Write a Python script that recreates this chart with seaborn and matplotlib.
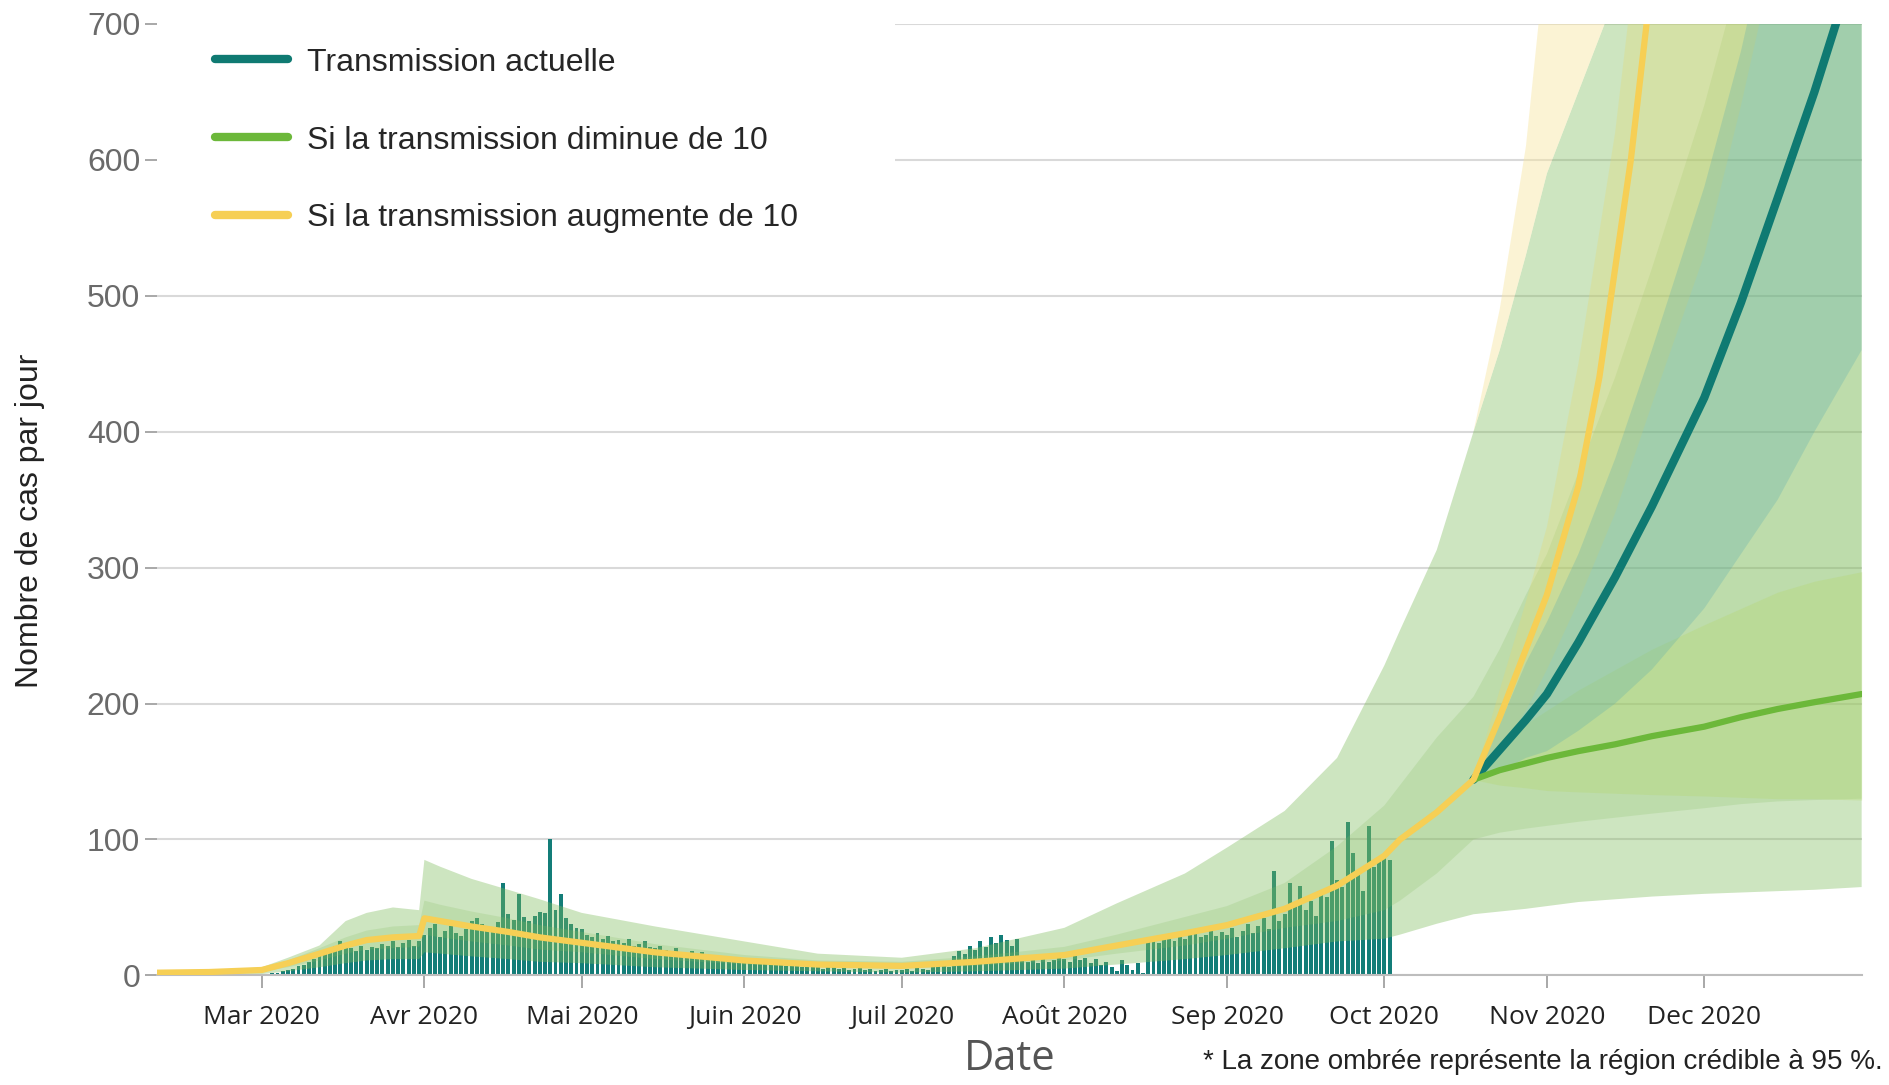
import pandas as pd
import matplotlib
matplotlib.use("Agg")
import matplotlib.pyplot as plt
import seaborn as sns
from matplotlib.lines import Line2D
from matplotlib.patches import Rectangle


# cas observés par jour, du 10 février au 2 octobre 2020
cas_fev = [0, 0, 0, 0, 0, 0, 0, 0, 0, 0, 0, 0, 0, 0, 0, 1, 0, 0, 1, 1]
cas_mar = [1, 1, 2, 2, 3, 4, 5, 7, 8, 10, 12, 14, 16, 18, 22, 25, 24, 20, 18, 22,
           19, 21, 20, 23, 22, 25, 21, 24, 26, 22, 25]
cas_avr = [30, 35, 38, 28, 33, 36, 31, 29, 34, 40, 42, 38, 36, 33, 39, 68, 45, 41, 60, 43,
           40, 44, 47, 46, 100, 48, 60, 42, 38, 35]
cas_mai = [34, 30, 28, 31, 27, 29, 25, 26, 24, 27, 22, 23, 25, 21, 20, 22, 19, 18, 20, 17,
           16, 18, 15, 17, 14, 15, 13, 14, 12, 13, 11]
cas_juin = [12, 10, 11, 9, 10, 8, 9, 10, 7, 8, 9, 6, 7, 8, 6, 5, 7, 6, 5, 6,
            4, 5, 6, 4, 5, 3, 4, 5, 3, 4]
cas_juil = [4, 5, 3, 6, 5, 4, 6, 7, 8, 6, 14, 18, 16, 22, 19, 25, 21, 28, 24, 30,
            26, 22, 27, 12, 10, 11, 9, 12, 10, 11, 13]
cas_aout = [12, 10, 14, 11, 13, 9, 12, 8, 10, 6, 3, 11, 8, 4, 9, 2, 26, 28, 24, 27,
            30, 25, 29, 27, 31, 33, 28, 30, 34, 29, 32]
cas_sep = [30, 35, 28, 33, 38, 31, 36, 42, 34, 77, 40, 45, 68, 52, 66, 48, 55, 44, 60, 58,
           99, 70, 65, 113, 90, 75, 62, 110, 80, 87]
cas_oct = [88, 85]

# courbe ajustée commune (avant la séparation des scénarios)
dates_fit = ["2020-02-10", "2020-02-20", "2020-03-01", "2020-03-06", "2020-03-12",
             "2020-03-17", "2020-03-21", "2020-03-26", "2020-03-31", "2020-04-01",
             "2020-04-04", "2020-04-10", "2020-04-17", "2020-04-23", "2020-05-01",
             "2020-05-15", "2020-06-01", "2020-06-15", "2020-07-01", "2020-07-15",
             "2020-08-01", "2020-08-11", "2020-08-24", "2020-09-01", "2020-09-12",
             "2020-09-22", "2020-10-01", "2020-10-04", "2020-10-11", "2020-10-18"]
fit_commun = [2, 2.5, 4, 9, 16, 22, 26, 28, 29, 42, 40, 36, 32, 28, 24,
              17, 11, 8, 7, 10, 15, 22, 31, 37, 49, 66, 88, 100, 120, 144]
ic95_bas = [0.5, 0.5, 1, 3, 6, 9, 11, 12, 12, 17, 16, 14, 12, 10, 9,
            6, 4, 3, 2, 3, 5, 8, 12, 15, 20, 25, 27, 30, 38, 45]
ic95_haut = [3, 3.5, 6, 13, 22, 40, 46, 50, 48, 85, 80, 71, 63, 56, 46,
             36, 25, 16, 13, 20, 35, 53, 75, 94, 121, 160, 228, 254, 313, 400]
ic50_bas = [1.5, 2, 3, 6, 11, 16, 19, 20, 21, 30, 28, 25, 22, 19, 17,
            12, 8, 6, 5, 7, 11, 16, 22, 27, 35, 40, 48, 55, 75, 100]
ic50_haut = [2.5, 3, 5, 11, 20, 28, 33, 36, 37, 55, 52, 47, 42, 37, 32,
             23, 15, 11, 10, 14, 21, 30, 43, 51, 68, 95, 125, 140, 175, 205]

# projections (à partir du 18 octobre)
dates_proj = ["2020-10-18", "2020-10-23", "2020-10-28", "2020-11-01", "2020-11-07",
              "2020-11-14", "2020-11-21", "2020-12-01", "2020-12-08", "2020-12-15",
              "2020-12-22", "2020-12-31"]
proj_actuelle = [144, 166, 188, 207, 245, 293, 345, 425, 495, 572, 650, 760]
proj_diminue = [144, 151, 156, 160, 165, 170, 176, 183, 190, 196, 201, 207]

dates_aug = ["2020-10-18", "2020-10-23", "2020-10-28", "2020-11-01", "2020-11-04",
             "2020-11-07", "2020-11-11", "2020-11-14", "2020-11-17", "2020-11-20",
             "2020-11-25"]
proj_augmente = [144, 190, 240, 280, 320, 360, 440, 520, 600, 700, 870]

# suite de l'enveloppe commune après le 18 octobre
env95_bas = [47, 49, 51, 54, 56, 58, 60, 61, 62, 63, 65]
env95_haut = [460, 530, 590, 650, 720, 850, 1050, 1200, 1400, 1600, 1900]
env50_bas = [105, 108, 110, 113, 116, 119, 123, 126, 128, 129, 130]
env50_haut = [240, 280, 310, 370, 440, 520, 640, 740, 850, 950, 1100]

# zones propres à chaque scénario
bord_bas = [400, 460, 530, 590, 650, 720, 850, 1050, 1200, 1400, 1600, 1900]
bord_haut = [400, 490, 610, 760, 950, 1200, 1500, 2000, 2500, 3000, 3500, 4000]
aug_bas = [144, 165, 195, 225, 275, 340, 420, 530, 640, 760, 880, 1050]
aug_haut = [144, 210, 275, 330, 450, 620, 850, 1200, 1500, 1800, 2100, 2500]
act_bas = [144, 150, 160, 165, 180, 200, 225, 270, 310, 350, 400, 460]
act_haut = [144, 185, 230, 260, 310, 380, 460, 580, 680, 800, 900, 1050]
dim_bas = [144, 140, 138, 136, 135, 134, 133, 132, 131, 130, 130, 129]
dim_haut = [144, 170, 185, 195, 210, 225, 240, 258, 270, 282, 290, 297]

mois_ticks = ["2020-03-01", "2020-04-01", "2020-05-01", "2020-06-01", "2020-07-01",
              "2020-08-01", "2020-09-01", "2020-10-01", "2020-11-01", "2020-12-01"]
mois_labels = ["Mar 2020", "Avr 2020", "Mai 2020", "Juin 2020", "Juil 2020",
               "Août 2020", "Sep 2020", "Oct 2020", "Nov 2020", "Dec 2020"]
legende = ["Transmission actuelle", "Si la transmission diminue de 10",
           "Si la transmission augmente de 10"]

COUL_ACT = "#0f7a72"
COUL_DIM = "#6cb83a"
COUL_AUG = "#f6cf55"
COUL_BARRE = "#137d78"

sns.set_theme(style="white")
plt.rcParams['font.family'] = ['Liberation Sans', 'DejaVu Sans']

cas = cas_fev + cas_mar + cas_avr + cas_mai + cas_juin + cas_juil + cas_aout + cas_sep + cas_oct
jours = pd.date_range("2020-02-10", periods=len(cas), freq="D")
t_fit = pd.to_datetime(dates_fit)
t_proj = pd.to_datetime(dates_proj)
t_aug = pd.to_datetime(dates_aug)
t_tout = list(t_fit) + list(t_proj[1:])

fig = plt.figure(figsize=(18.9, 10.85), dpi=100)
ax = fig.add_axes([0.083, 0.101, 0.902, 0.877])

# barres des cas observés
ax.bar(jours, cas, width=0.75, color=COUL_BARRE, linewidth=0, zorder=1)

# zones ombrées
ax.fill_between(t_tout, ic95_bas + env95_bas, ic95_haut + env95_haut,
                color="#7dbb5a", alpha=0.38, lw=0, zorder=2)
ax.fill_between(t_tout, ic50_bas + env50_bas, ic50_haut + env50_haut,
                color="#86bf62", alpha=0.22, lw=0, zorder=2)
ax.fill_between(t_proj, bord_bas, bord_haut, color="#f8e6a0", alpha=0.45, lw=0, zorder=2)
ax.fill_between(t_proj, aug_bas, aug_haut, color="#e6da70", alpha=0.3, lw=0, zorder=2)
ax.fill_between(t_proj, dim_bas, dim_haut, color="#b5d86a", alpha=0.3, lw=0, zorder=2)
ax.fill_between(t_proj, act_bas, act_haut, color="#4fa8b0", alpha=0.25, lw=0, zorder=2)

# courbes
sns.lineplot(x=t_proj, y=proj_actuelle, ax=ax, color=COUL_ACT, linewidth=6, zorder=5)
sns.lineplot(x=t_proj, y=proj_diminue, ax=ax, color=COUL_DIM, linewidth=4.5, zorder=5)
sns.lineplot(x=list(t_fit) + list(t_aug[1:]), y=fit_commun + proj_augmente[1:], ax=ax,
             color=COUL_AUG, linewidth=4.5, zorder=6)

ax.set_xlim(pd.Timestamp("2020-02-10"), pd.Timestamp("2020-12-31"))
ax.set_ylim(0, 700)
ax.set_yticks(range(0, 701, 100))
ax.set_xticks(pd.to_datetime(mois_ticks))
ax.set_xticklabels(mois_labels, fontsize=19, color="#222222", family=['Open Sans', 'DejaVu Sans'])
ax.tick_params(axis="x", length=9, width=1.2, color="#9a9a9a", pad=12, bottom=True)
ax.tick_params(axis="y", length=9, width=1.2, color="#9a9a9a", pad=3, labelsize=23,
               labelcolor="#6a6a6a", left=True)
ax.yaxis.grid(True, color="#d9d9d9", linewidth=1.5)
ax.set_axisbelow(True)
for s in ["top", "right", "left"]:
    ax.spines[s].set_visible(False)
ax.spines["bottom"].set_color("#bdbdbd")
ax.spines["bottom"].set_linewidth(1.5)
ax.set_xlabel("")
ax.set_ylabel("")

# cadre blanc de la légende
ax.add_patch(Rectangle((0, 0.755), 0.433, 0.25, transform=ax.transAxes, facecolor="white",
                       edgecolor="none", zorder=3, clip_on=False))
poignees = [Line2D([0], [0], color=c, lw=6) for c in (COUL_ACT, COUL_DIM, COUL_AUG)]
ax.legend(poignees, legende, loc="upper left", bbox_to_anchor=(0.034, 0.975), frameon=False,
          fontsize=23, handlelength=2.3, handletextpad=0.6, labelspacing=1.5,
          borderpad=0, borderaxespad=0)

fig.text(0.016, 0.52, "Nombre de cas par jour", rotation=90, va="center", ha="center",
         fontsize=23, color="#222222")
fig.text(0.534, 0.024, "Date", ha="center", va="center", fontsize=30, color="#555555",
         family=['Open Sans', 'DejaVu Sans'])
fig.text(0.996, 0.021, "* La zone ombrée représente la région crédible à 95 %.",
         ha="right", va="center", fontsize=20, color="#222222")

fig.savefig("out.png", dpi=100)
